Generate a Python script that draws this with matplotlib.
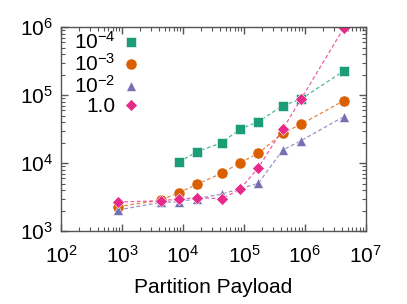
import numpy as np
import matplotlib
matplotlib.use('Agg')
import matplotlib.pyplot as plt
from matplotlib.lines import Line2D
from matplotlib.ticker import LogLocator, FuncFormatter, NullFormatter

plt.rcParams['font.family'] = ['Liberation Sans', 'DejaVu Sans']
plt.rcParams['mathtext.fontset'] = 'custom'
plt.rcParams['mathtext.rm'] = 'Liberation Sans'

# Partition payload (x) and runtime values
x_all = [860, 4300, 8600, 17200, 43000, 86000, 172000, 430000, 860000, 4300000]
x_e4 = x_all[2:]
y_e4 = [10400, 14700, 19900, 31600, 40400, 69700, 87000, 225000]
y_e3 = [2280, 2860, 3660, 4910, 7060, 10100, 13900, 27400, 37100, 82400]
x_e2 = [860, 4300, 8600, 17200, 43000, 172000, 430000, 860000, 4300000]
y_e2 = [2040, 2640, 2700, 3000, 3500, 5020, 15500, 21300, 47900]
y_1 = [2670, 2790, 2950, 3090, 2985, 4100, 8510, 31300, 87000, 955000]

labels = [r'$\mathregular{10^{-4}}$', r'$\mathregular{10^{-3}}$',
          r'$\mathregular{10^{-2}}$', '1.0']
colors = ['#1b9e77', '#d95f02', '#7570b3', '#e7298a']
markers = ['s', 'o', '^', 'D']
sizes = [7.5, 8, 7.5, 6.5]

fig = plt.figure(figsize=(4.07, 3.04), dpi=100)
ax = fig.add_axes([0.150, 0.240, 0.749, 0.671])

series = [(x_e4, y_e4), (x_all, y_e3), (x_e2, y_e2), (x_all, y_1)]
for (xs, ys), c, m, s in zip(series, colors, markers, sizes):
    ax.plot(xs, ys, color=c, alpha=0.75, lw=0.9, ls=(0, (3, 2)))
    ax.plot(xs, ys, ls='none', marker=m, ms=s, color=c, mec='white', mew=0.4)

ax.set_xscale('log')
ax.set_yscale('log')
ax.set_xlim(1e2, 1e7)
ax.set_ylim(1e3, 1e6)

fmt = FuncFormatter(lambda v, p: r'$\mathregular{10^{%d}}$' % round(np.log10(v)))
ax.xaxis.set_major_formatter(fmt)
ax.yaxis.set_major_formatter(fmt)
ax.xaxis.set_major_locator(LogLocator(base=10, numticks=10))
ax.yaxis.set_major_locator(LogLocator(base=10, numticks=10))
ax.xaxis.set_minor_locator(LogLocator(base=10, subs=np.arange(2, 10), numticks=20))
ax.yaxis.set_minor_locator(LogLocator(base=10, subs=np.arange(2, 10), numticks=20))
ax.xaxis.set_minor_formatter(NullFormatter())
ax.yaxis.set_minor_formatter(NullFormatter())

edge = '#555555'
for sp in ax.spines.values():
    sp.set_color(edge)
    sp.set_linewidth(1.0)
ax.tick_params(which='both', direction='in', top=True, right=True,
               color=edge, labelsize=15, labelcolor='black')
ax.tick_params(which='major', length=5, width=1.0)
ax.tick_params(which='minor', length=3, width=0.8)
ax.tick_params(axis='x', which='major', pad=10)
ax.tick_params(axis='y', which='major', pad=6)

ax.set_xlabel('Partition Payload', fontsize=15, labelpad=8)

handles = [Line2D([], [], ls='none', marker=m, ms=s, color=c, mec='white', mew=0.4)
           for c, m, s in zip(colors, markers, sizes)]
leg = ax.legend(handles, labels, loc='upper left', markerfirst=False, frameon=False,
                fontsize=15, handlelength=0.8, handletextpad=0.35, labelspacing=0.0,
                borderaxespad=0.2, bbox_to_anchor=(0.0, 1.04))
for t in leg.get_texts():
    t.set_ha('right')

fig.savefig('out.png', dpi=100)
